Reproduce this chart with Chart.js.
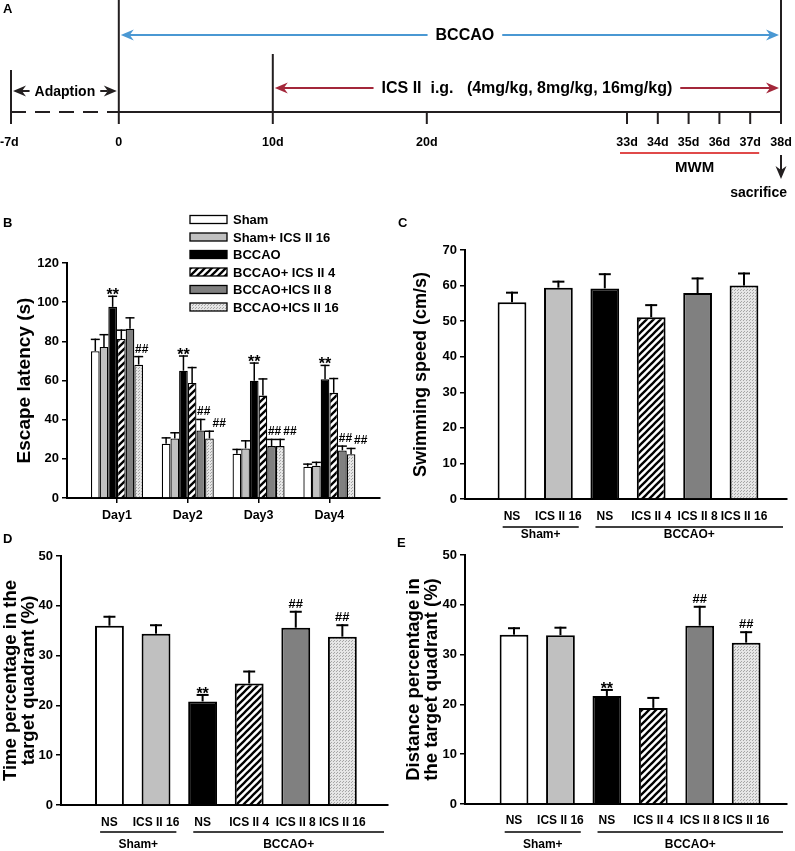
<!DOCTYPE html>
<html>
<head>
<meta charset="utf-8">
<title>ICS II - BCCAO water maze figure</title>
<script src="https://cdn.jsdelivr.net/npm/chart.js@4.4.1/dist/chart.umd.min.js"></script>
<style>
  body { margin: 0; background: #fff; }
  #wrap { position: relative; width: 795px; height: 851px; overflow: hidden; background: #fff; }
  canvas { position: absolute; }
</style>
</head>
<body>
<div id="wrap">
  <canvas id="panelA" width="795" height="200" style="left:0;top:0"></canvas>
  <canvas id="panelB" width="395" height="330" style="left:0;top:200px"></canvas>
  <canvas id="panelC" width="400" height="345" style="left:395px;top:200px"></canvas>
  <canvas id="panelD" width="395" height="321" style="left:0;top:530px"></canvas>
  <canvas id="panelE" width="400" height="321" style="left:395px;top:530px"></canvas>
</div>
<script>
const FONT = 'Arial, "Liberation Sans", Helvetica, sans-serif';
Chart.defaults.font.family = FONT;
Chart.defaults.color = "#000";
Chart.defaults.animation = false;
Chart.defaults.plugins.legend.display = false;
Chart.defaults.plugins.tooltip.enabled = false;

//#                 Panel A - experiment timeline (days)
const timelineDays = [-7, 0, 10, 20, 33, 34, 35, 36, 37, 38];
const timelineLabels = ["-7d", "0", "10d", "20d", "33d", "34d", "35d", "36d", "37d", "38d"];
const phaseNames = ["Adaption", "BCCAO", "ICS II  i.g.   (4mg/kg, 8mg/kg, 16mg/kg)"];
const phaseStart = [-7, 0, 10];
const phaseEnd = [0, 38, 38];
const mwmDays = [33, 37];
const sacrificeDay = 38;

//#                 Panel B - escape latency (s), one array per group, Day1..Day4
const dayLabels = ["Day1", "Day2", "Day3", "Day4"];
const groupNames = ["Sham", "Sham+ ICS II 16", "BCCAO", "BCCAO+ ICS II 4", "BCCAO+ICS II 8", "BCCAO+ICS II 16"];
const latencySham = [75, 27.7, 22.6, 16];
const latencyShamIcs16 = [77.1, 30.4, 25.3, 16.5];
const latencyBccao = [97.6, 65, 59.9, 60.6];
const latencyIcs4 = [81.2, 58.7, 52.3, 53.7];
const latencyIcs8 = [86.4, 34.5, 26.5, 24.3];
const latencyIcs16 = [68.1, 30.4, 26.5, 22.4];
const latencySemSham = [6, 3, 2.2, 1.3];
const latencySemShamIcs16 = [6.3, 2.9, 3.9, 1.7];
const latencySemBccao = [5.4, 7.5, 9, 7.1];
const latencySemIcs4 = [4.5, 7.9, 8.5, 7.3];
const latencySemIcs8 = [5.6, 5.6, 3.4, 2.2];
const latencySemIcs16 = [4.1, 3.7, 3.4, 2.9];
const latencyMarksBccao = ["**", "**", "**", "**"];
const latencyMarksIcs8 = ["", "##", "##", "##"];
const latencyMarksIcs16 = ["##", "##", "##", "##"];

//#                 Panels C, D, E - one bar per group
const barLabels = ["NS", "ICS II 16", "NS", "ICS II 4", "ICS II 8", "ICS II 16"];
const treatGroups = ["Sham+", "BCCAO+"];
const treatFrom = [0, 2];
const treatTo = [1, 5];

const speedMean = [55.3, 59.4, 59.2, 51.1, 57.9, 60];
const speedSem = [2.7, 1.7, 4, 3.4, 4.1, 3.4];

const timeMean = [36, 34.4, 20.8, 24.4, 35.6, 33.8];
const timeSem = [1.8, 1.7, 1.3, 2.4, 3.2, 2.3];
const timeMarks = ["", "", "**", "", "##", "##"];

const distMean = [34, 33.9, 21.7, 19.3, 35.8, 32.4];
const distSem = [1.3, 1.5, 1.2, 2, 3.8, 2.1];
const distMarks = ["", "", "**", "", "##", "##"];

//#                 Helpers
function drawLine(ctx, x1, y1, x2, y2) {
  ctx.beginPath();
  ctx.moveTo(x1, y1);
  ctx.lineTo(x2, y2);
  ctx.stroke();
}

function arrowHead(ctx, x, y, angle, color) {
  ctx.save();
  ctx.translate(x, y);
  ctx.rotate(angle);
  ctx.beginPath();
  ctx.moveTo(0, 0);
  ctx.lineTo(-13, -5.5);
  ctx.lineTo(-9, 0);
  ctx.lineTo(-13, 5.5);
  ctx.closePath();
  ctx.fillStyle = color;
  ctx.fill();
  ctx.restore();
}

// the timeline is squeezed until day 33, the MWM days get double width
function dayPos(d) {
  return d <= 33 ? d : 33 + (d - 33) * 2;
}

function hatchFill() {
  const s = 7;
  const c = document.createElement("canvas");
  c.width = s;
  c.height = s;
  const g = c.getContext("2d");
  g.fillStyle = "#fff";
  g.fillRect(0, 0, s, s);
  g.strokeStyle = "#000";
  g.lineWidth = 2.3;
  drawLine(g, 0, s, s, 0);
  drawLine(g, -1, 1, 1, -1);
  drawLine(g, s - 1, s + 1, s + 1, s - 1);
  return g.createPattern(c, "repeat");
}

function dotFill() {
  const c = document.createElement("canvas");
  c.width = 3;
  c.height = 3;
  const g = c.getContext("2d");
  g.fillStyle = "#e6e6e6";
  g.fillRect(0, 0, 3, 3);
  g.fillStyle = "#a6a6a6";
  g.fillRect(0, 0, 1, 1);
  g.fillRect(1, 2, 1, 1);
  return g.createPattern(c, "repeat");
}

const fills = ["#ffffff", "#c0c0c0", "#000000", hatchFill(), "#808080", dotFill()];

//#                 Plugins
const timelinePlugin = {
  id: "timeline",
  afterDraw(chart) {
    const ctx = chart.ctx;
    const xs = chart.scales.x;
    const px = (d) => xs.getPixelForValue(dayPos(d));
    const axisY = 112;
    const markerTops = { "-7": 70, 0: 0, 10: 54, 38: 0 };
    ctx.save();
    ctx.fillStyle = "#000";
    ctx.font = `bold 13px ${FONT}`;
    ctx.textAlign = "left";
    ctx.textBaseline = "alphabetic";
    ctx.fillText("A", 3, 13);

    // axis: dashed during adaption, solid afterwards
    ctx.strokeStyle = "#231f20";
    ctx.lineWidth = 2;
    ctx.setLineDash([15, 9]);
    drawLine(ctx, px(timelineDays[0]), axisY, px(0), axisY);
    ctx.setLineDash([]);
    drawLine(ctx, px(0), axisY, px(sacrificeDay), axisY);

    ctx.font = `bold 12.5px ${FONT}`;
    ctx.textBaseline = "middle";
    timelineDays.forEach((d, i) => {
      const top = markerTops[d] !== undefined ? markerTops[d] : axisY;
      drawLine(ctx, px(d), top, px(d), 124);
      // the first label sits against the left edge
      ctx.textAlign = i === 0 ? "left" : "center";
      ctx.fillText(timelineLabels[i], i === 0 ? 0 : px(d), 143);
    });

    // phase arrows with their names
    const phaseStyle = [
      { y: 91, color: "#231f20", size: 14, shift: 0, gap: 5 },
      { y: 35, color: "#4a98d3", size: 16, shift: 15, gap: 8 },
      { y: 88, color: "#a3273a", size: 16, shift: 0, gap: 8 },
    ];
    ctx.textAlign = "center";
    phaseNames.forEach((name, i) => {
      const st = phaseStyle[i];
      const x1 = px(phaseStart[i]) + 2;
      const x2 = px(phaseEnd[i]) - 2;
      const mid = (x1 + x2) / 2 + st.shift;
      ctx.font = `bold ${st.size}px ${FONT}`;
      const w = ctx.measureText(name).width;
      ctx.strokeStyle = st.color;
      ctx.lineWidth = 2;
      drawLine(ctx, x1 + 9, st.y, mid - w / 2 - st.gap, st.y);
      drawLine(ctx, mid + w / 2 + st.gap, st.y, x2 - 9, st.y);
      arrowHead(ctx, x1, st.y, Math.PI, st.color);
      arrowHead(ctx, x2, st.y, 0, st.color);
      ctx.fillStyle = "#000";
      ctx.fillText(name, mid, st.y + 1);
    });

    // water maze days
    ctx.strokeStyle = "#e04a4a";
    ctx.lineWidth = 2;
    const m1 = px(mwmDays[0]) - 7;
    const m2 = px(mwmDays[1]) + 9;
    drawLine(ctx, m1, 153, m2, 153);
    ctx.fillStyle = "#000";
    ctx.font = `bold 15px ${FONT}`;
    ctx.fillText("MWM", (m1 + m2) / 2 + 5, 168);

    // sacrifice
    ctx.strokeStyle = "#231f20";
    drawLine(ctx, px(sacrificeDay), 155, px(sacrificeDay), 170);
    arrowHead(ctx, px(sacrificeDay), 179, Math.PI / 2, "#231f20");
    ctx.textAlign = "right";
    ctx.font = `bold 14px ${FONT}`;
    ctx.fillText("sacrifice", px(sacrificeDay) + 6, 193);
    ctx.restore();
  },
};

const errorBarPlugin = {
  id: "errorBars",
  afterDatasetsDraw(chart, args, opts) {
    const ctx = chart.ctx;
    const ys = chart.scales.y;
    const hashRight = {}; // right edge of the last "##" drawn in each category
    ctx.save();
    ctx.strokeStyle = "#000";
    ctx.fillStyle = "#000";
    ctx.lineWidth = opts.lineWidth;
    ctx.textAlign = "center";
    ctx.textBaseline = "alphabetic";
    chart.data.datasets.forEach((ds, di) => {
      chart.getDatasetMeta(di).data.forEach((bar, i) => {
        const top = ys.getPixelForValue(ds.data[i].y + ds.sem[i]);
        drawLine(ctx, bar.x, bar.y, bar.x, top - opts.lineWidth / 2);
        drawLine(ctx, bar.x - opts.cap / 2, top, bar.x + opts.cap / 2, top);
        const mark = ds.marks ? ds.marks[i] : "";
        if (mark === "**") {
          ctx.font = `bold 16px ${FONT}`;
          ctx.fillText(mark, bar.x, top + 4);
        } else if (mark === "##") {
          ctx.font = `bold ${opts.hashSize}px ${FONT}`;
          const w = ctx.measureText(mark).width;
          let cx = bar.x + opts.hashShift;
          // neighbouring marks are pushed right so they do not overlap
          if (hashRight[i] !== undefined) cx = Math.max(cx, hashRight[i] + 2 + w / 2);
          hashRight[i] = cx + w / 2;
          ctx.fillText(mark, cx, top - 4);
        }
      });
    });
    ctx.restore();
  },
};

const decorPlugin = {
  id: "decor",
  afterDraw(chart, args, opts) {
    const ctx = chart.ctx;
    ctx.save();
    ctx.fillStyle = "#000";
    ctx.font = `bold 13px ${FONT}`;
    ctx.textAlign = "left";
    ctx.textBaseline = "alphabetic";
    ctx.fillText(opts.letter, opts.letterX, opts.letterY);

    if (opts.legend) {
      const lg = opts.legend;
      chart.data.datasets.forEach((ds, i) => {
        const y = lg.y + i * lg.step;
        ctx.fillStyle = ds.backgroundColor;
        ctx.fillRect(lg.x, y - 4, 37, 8);
        ctx.strokeStyle = "#000";
        ctx.lineWidth = 1.3;
        ctx.strokeRect(lg.x, y - 4, 37, 8);
        ctx.fillStyle = "#000";
        ctx.font = `bold 13px ${FONT}`;
        ctx.textBaseline = "middle";
        ctx.fillText(ds.label, lg.x + 43, y + 1);
      });
    }

    if (opts.groups) {
      const xs = chart.scales.x;
      const axisY = chart.chartArea.bottom;
      ctx.font = `bold 12px ${FONT}`;
      ctx.strokeStyle = "#000";
      ctx.lineWidth = 1.3;
      ctx.textAlign = "center";
      ctx.textBaseline = "middle";
      treatGroups.forEach((name, g) => {
        const a = treatFrom[g];
        const b = treatTo[g];
        const left = xs.getPixelForValue(a) - ctx.measureText(barLabels[a]).width / 2 - 1;
        let right = xs.getPixelForValue(b) + ctx.measureText(barLabels[b]).width / 2 - 3;
        if (g === treatGroups.length - 1) right = chart.chartArea.right - 4;
        drawLine(ctx, left, axisY + opts.groups.line, right, axisY + opts.groups.line);
        ctx.fillText(name, (left + right) / 2, axisY + opts.groups.text);
      });
    }
    ctx.restore();
  },
};

//#                 Shared axis setup for the bar panels
function barScales(o) {
  return {
    x: {
      type: "linear",
      min: o.xMin,
      max: o.xMax,
      bounds: "data",
      offset: false,
      afterBuildTicks: (s) => {
        s.ticks = o.labels.map((_, i) => ({ value: i }));
      },
      afterFit: (s) => {
        s.height = o.xHeight;
      },
      ticks: {
        autoSkip: false,
        maxRotation: 0,
        padding: o.xPad,
        font: { size: o.xFont, weight: "bold" },
        callback: (v) => o.labels[Math.round(v)],
      },
      grid: {
        offset: false,
        drawOnChartArea: false,
        drawTicks: o.xTicks,
        tickLength: 5,
        color: "#000",
        lineWidth: 1.5,
      },
      border: { color: "#000", width: 2 },
    },
    y: {
      min: 0,
      max: o.yMax,
      afterFit: (s) => {
        s.width = o.yWidth;
      },
      ticks: { stepSize: o.step, padding: 3, font: { size: 13, weight: "bold" } },
      grid: { drawOnChartArea: false, tickLength: 5, color: "#000", lineWidth: 1.5 },
      border: { color: "#000", width: 2 },
      title: {
        display: true,
        text: o.title,
        font: { size: o.titleSize, weight: "bold", lineHeight: o.titleLH },
        padding: { top: o.titlePad, bottom: 0 },
      },
    },
  };
}

//#                 Panel A
new Chart(document.getElementById("panelA"), {
  type: "scatter",
  data: {
    datasets: [{ data: timelineDays.map((d) => ({ x: dayPos(d), y: 0 })), pointRadius: 0 }],
  },
  options: {
    responsive: false,
    layout: { padding: { left: 11, right: 14, top: 0, bottom: 0 } },
    scales: {
      x: { type: "linear", display: false, min: -7, max: 43 },
      y: { display: false, min: -1, max: 1 },
    },
  },
  plugins: [timelinePlugin],
});

//#                 Panel B
const latencyMeans = [latencySham, latencyShamIcs16, latencyBccao, latencyIcs4, latencyIcs8, latencyIcs16];
const latencySems = [latencySemSham, latencySemShamIcs16, latencySemBccao, latencySemIcs4, latencySemIcs8, latencySemIcs16];
const latencyMarks = [null, null, latencyMarksBccao, null, latencyMarksIcs8, latencyMarksIcs16];

new Chart(document.getElementById("panelB"), {
  type: "bar",
  data: {
    datasets: latencyMeans.map((m, g) => ({
      label: groupNames[g],
      data: m.map((v, i) => ({ x: i, y: v })),
      sem: latencySems[g],
      marks: latencyMarks[g],
      backgroundColor: fills[g],
      borderColor: "#000",
      borderWidth: 1.3,
      categoryPercentage: 0.735,
      barPercentage: 1,
    })),
  },
  options: {
    responsive: false,
    layout: { padding: { left: 0, right: 15, top: 63, bottom: 0 } },
    scales: barScales({
      labels: dayLabels, xMin: -0.706, xMax: 3.715, xHeight: 32, xPad: 5, xTicks: true, xFont: 12.5,
      yMax: 120, step: 20, yWidth: 67,
      title: "Escape latency (s)", titleSize: 19, titleLH: 1.2, titlePad: 13,
    }),
    plugins: {
      errorBars: { lineWidth: 1.5, cap: 9, hashSize: 12, hashShift: 3 },
      decor: { letter: "B", letterX: 3, letterY: 27, legend: { x: 190, y: 19.5, step: 17.5 } },
    },
  },
  plugins: [errorBarPlugin, decorPlugin],
});

//#                 Panels C, D, E
function singleBarChart(id, mean, sem, marks, o, decor) {
  return new Chart(document.getElementById(id), {
    type: "bar",
    data: {
      datasets: [{
        data: mean.map((v, i) => ({ x: i, y: v })),
        sem: sem,
        marks: marks,
        backgroundColor: fills,
        borderColor: "#000",
        borderWidth: 2,
        categoryPercentage: 1,
        barPercentage: 0.62,
      }],
    },
    options: {
      responsive: false,
      layout: { padding: o.padding },
      scales: barScales(o),
      plugins: {
        errorBars: { lineWidth: 2, cap: 12, hashSize: 13, hashShift: 0 },
        decor: decor,
      },
    },
    plugins: [errorBarPlugin, decorPlugin],
  });
}

singleBarChart("panelC", speedMean, speedSem, null, {
  padding: { left: 0, right: 8, top: 50, bottom: 0 },
  labels: barLabels, xMin: -1.013, xMax: 5.927, xHeight: 46, xPad: 10, xTicks: false, xFont: 12,
  yMax: 70, step: 10, yWidth: 70,
  title: "Swimming speed (cm/s)", titleSize: 18, titleLH: 1.2, titlePad: 15,
}, { letter: "C", letterX: 3, letterY: 27, groups: { line: 28, text: 36 } });

singleBarChart("panelD", timeMean, timeSem, timeMarks, {
  padding: { left: 0, right: 7, top: 26, bottom: 0 },
  labels: barLabels, xMin: -1.04, xMax: 5.98, xHeight: 46, xPad: 10, xTicks: false, xFont: 12,
  yMax: 50, step: 10, yWidth: 61,
  title: ["Time percentage in the", "target quadrant (%)"], titleSize: 18.5, titleLH: 0.97, titlePad: 2,
}, { letter: "D", letterX: 3, letterY: 13, groups: { line: 27, text: 40 } });

singleBarChart("panelE", distMean, distSem, distMarks, {
  padding: { left: 0, right: 8, top: 25, bottom: 0 },
  labels: barLabels, xMin: -1.056, xMax: 5.88, xHeight: 47, xPad: 9, xTicks: false, xFont: 12,
  yMax: 50, step: 10, yWidth: 70,
  title: ["Distance percentage in", "the target quadrant (%)"], titleSize: 18.5, titleLH: 0.97, titlePad: 9.5,
}, { letter: "E", letterX: 2, letterY: 17, groups: { line: 28, text: 41 } });
</script>
</body>
</html>
